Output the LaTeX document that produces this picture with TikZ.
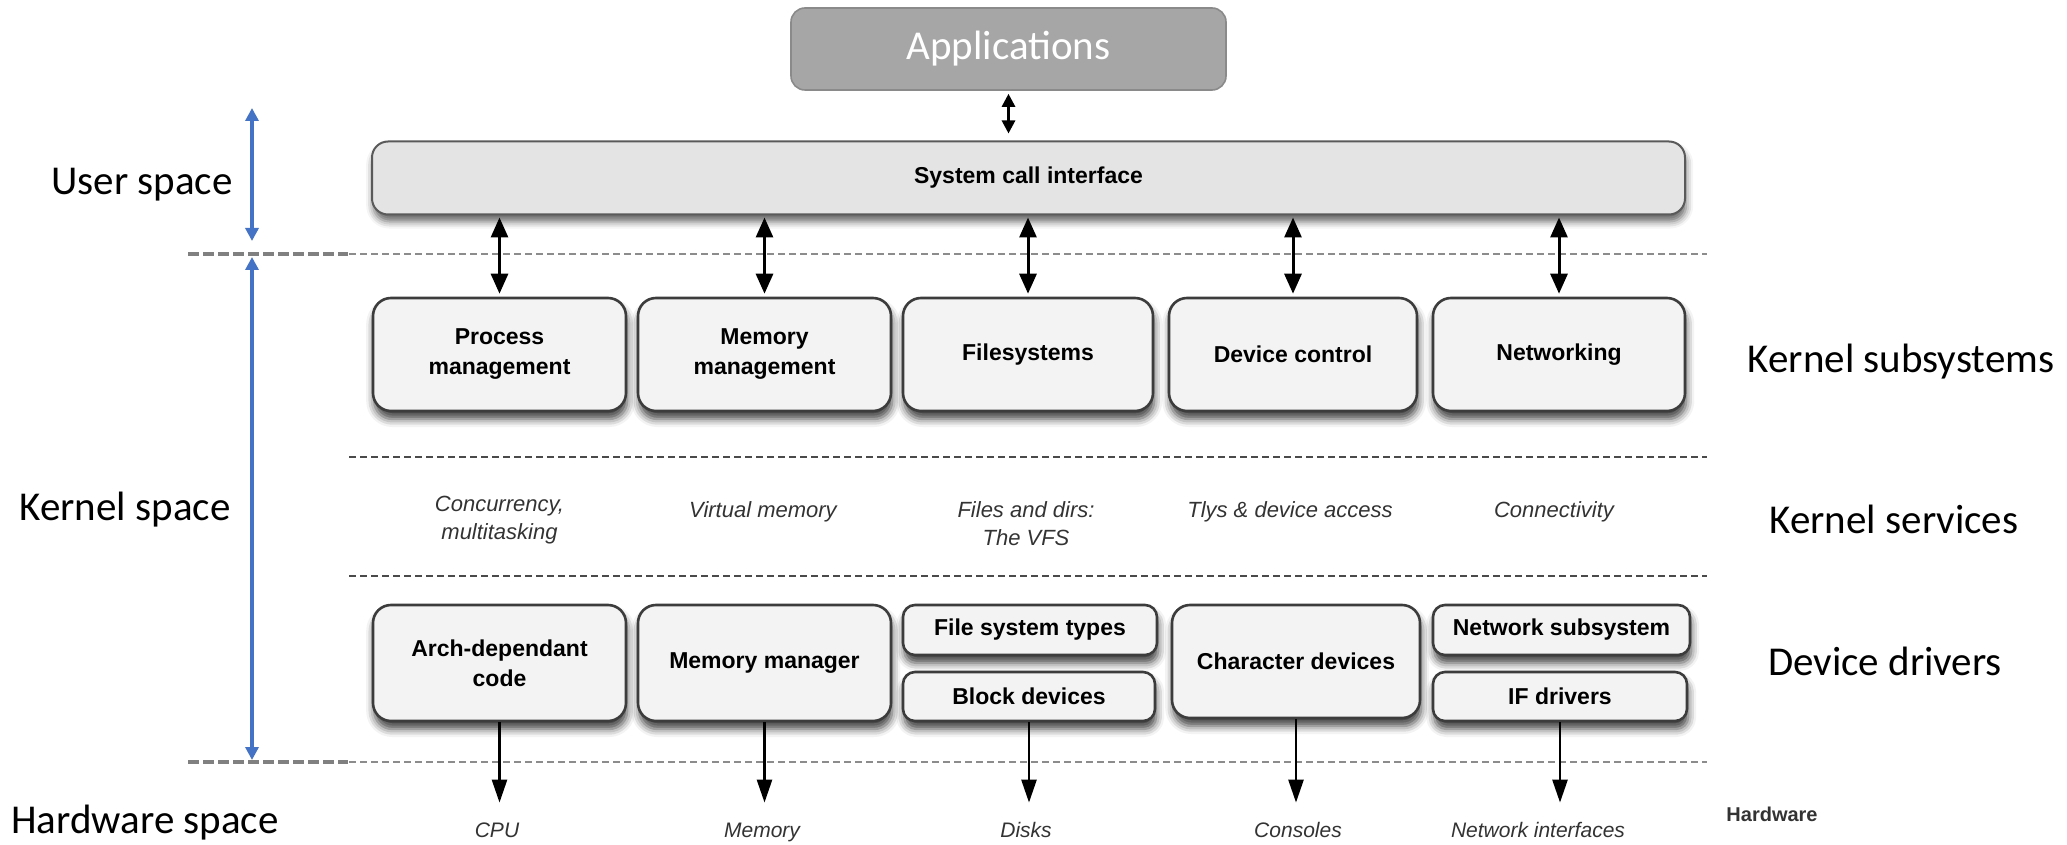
\documentclass[tikz,border=0pt]{standalone}
\usepackage{fontspec}
\setmainfont{Liberation Sans}
\newfontfamily\sidefont{Carlito}
\usetikzlibrary{arrows.meta,shadows.blur}

\definecolor{boxfill}{HTML}{F3F3F3}
\definecolor{boxline}{HTML}{3C3C3C}
\definecolor{callfill}{HTML}{E4E4E4}
\definecolor{callline}{HTML}{5A5A5A}
\definecolor{appfill}{HTML}{A6A6A6}
\definecolor{appline}{HTML}{8A8A8A}
\definecolor{spaceblue}{HTML}{4472C4}
\definecolor{sepdark}{HTML}{4A4A4A}
\definecolor{seplight}{HTML}{8C8C8C}
\definecolor{septhick}{HTML}{808080}
\definecolor{servtext}{HTML}{333333}

\begin{document}
\begin{tikzpicture}[x=0.5pt,y=-0.5pt,
  sub/.style={draw=boxline, line width=1.3pt, fill=boxfill, rounded corners=9pt,
    font=\bfseries\fontsize{11.5}{15}\selectfont, align=center, inner sep=0pt,
    blur shadow={shadow xshift=0.6pt, shadow yshift=-4pt, shadow blur radius=4pt, shadow opacity=75}},
  slim/.style={sub, rounded corners=6pt},
  callbox/.style={draw=callline, line width=1pt, fill=callfill, rounded corners=8pt,
    font=\bfseries\fontsize{11.5}{15}\selectfont, inner sep=0pt,
    blur shadow={shadow xshift=0.6pt, shadow yshift=-3.5pt, shadow blur radius=3.5pt, shadow opacity=60}},
  appbox/.style={draw=appline, line width=0.8pt, fill=appfill, rounded corners=7pt,
    text=white, font=\sidefont\fontsize{20.5}{24}\selectfont, inner sep=0pt},
  serv/.style={font=\itshape\fontsize{11}{14}\selectfont, text=servtext, align=center, inner sep=0pt, anchor=north},
  hw/.style={font=\itshape\fontsize{10.5}{13}\selectfont, text=servtext, inner sep=0pt,
    text height=8pt, text depth=2.5pt, anchor=base},
  side/.style={font=\sidefont\fontsize{20.5}{24}\selectfont, inner sep=0pt, anchor=base},
  apparrow/.style={line width=1.4pt, {Triangle[length=6.5pt,width=6.5pt]}-{Triangle[length=6.5pt,width=6.5pt]}},
  dblarrow/.style={line width=1.5pt, {Triangle[length=10pt,width=8.5pt]}-{Triangle[length=10pt,width=8.5pt]}},
  downarrow/.style={line width=1.3pt, -{Triangle[length=11.5pt,width=7.5pt]}},
  bluearrow/.style={spaceblue, line width=2pt, {Triangle[length=6.5pt,width=6.5pt]}-{Triangle[length=6.5pt,width=6.5pt]}},
  thinsep/.style={line width=0.75pt, dash pattern=on 3.5pt off 2pt},
  thicksep/.style={septhick, line width=2pt, dash pattern=on 5.5pt off 2pt}
]
\useasboundingbox (0,0) rectangle (2067,845);

% separators between the layers
\draw[thicksep] (188,254) -- (348,254);
\draw[thinsep, seplight] (349,254) -- (1707,254);
\draw[thinsep, sepdark] (349,457) -- (1707,457);
\draw[thinsep, sepdark] (349,576) -- (1707,576);
\draw[thicksep] (188,762) -- (348,762);
\draw[thinsep, seplight] (349,762) -- (1707,762);

% applications and system call layer
\node[appbox, minimum width=217.5pt, minimum height=41pt] (apps) at (1008.5,49) {Applications};
\node[callbox, minimum width=656.5pt, minimum height=36.5pt] (sc) at (1028.5,178) {System call interface};

% kernel subsystems
\node[sub, minimum width=126.5pt, minimum height=56.5pt] (p1) at (499.5,354.5) {Process\\management};
\node[sub, minimum width=126.5pt, minimum height=56.5pt] (p2) at (764.5,354.5) {Memory\\management};
\node[sub, minimum width=125pt,   minimum height=56.5pt] (p3) at (1028,354.5) {Filesystems};
\node[sub, minimum width=124pt,   minimum height=56.5pt] (p4) at (1293,354.5) {Device control};
\node[sub, minimum width=126pt,   minimum height=56.5pt] (p5) at (1559,354.5) {Networking};

% kernel services
\node[serv] (s1) at (499.5,491) {\strut Concurrency,\\multitasking};
\node[serv] (s2) at (763,497) {\strut Virtual memory};
\node[serv] (s3) at (1026,497) {\strut Files and dirs:\\The VFS};
\node[serv] (s4) at (1290,497) {\strut Tlys \& device access};
\node[serv] (s5) at (1554,497) {\strut Connectivity};

% device drivers
\node[sub,  minimum width=126.5pt, minimum height=58pt]   (d1) at (499.5,663) {Arch-dependant\\code};
\node[sub,  minimum width=126.5pt, minimum height=58pt]   (d2) at (764.5,663) {Memory manager};
\node[slim, minimum width=127pt,   minimum height=25pt]   (d3a) at (1030,630) {File system types};
\node[slim, minimum width=126pt,   minimum height=24.5pt] (d3b) at (1029,696.5) {Block devices};
\node[sub,  minimum width=124pt,   minimum height=56.5pt] (d4) at (1296,661.5) {Character devices};
\node[slim, minimum width=128.5pt, minimum height=25pt]   (d5a) at (1561.5,630) {Network subsystem};
\node[slim, minimum width=127pt,   minimum height=24.5pt] (d5b) at (1560,696.5) {IF drivers};

% hardware
\node[hw] (h1) at (497,837) {CPU};
\node[hw] (h2) at (762,837) {Memory};
\node[hw] (h3) at (1026,837) {Disks};
\node[hw] (h4) at (1298,837) {Consoles};
\node[hw] (h5) at (1538,837) {Network interfaces};

% connectors
\draw[apparrow, shorten <=1.5pt, shorten >=3.5pt] (apps.south) -- (apps.south |- sc.north);
\foreach \p in {p1,p2,p3,p4,p5}
  \draw[dblarrow, shorten <=1pt, shorten >=1.5pt] (\p.north |- sc.south) -- (\p.north);
\draw[downarrow, shorten >=9pt] (d1.south) -- (d1.south |- h1.north);
\draw[downarrow, shorten >=9pt] (d2.south) -- (d2.south |- h2.north);
\draw[downarrow, shorten >=9pt] (d3b.south) -- (d3b.south |- h3.north);
\draw[downarrow, shorten >=9pt] (d4.south) -- (d4.south |- h4.north);
\draw[downarrow, shorten >=9pt] (d5b.south) -- (d5b.south |- h5.north);

% address space markers
\coordinate (uTop) at (252,108);
\coordinate (uBot) at (252,241);
\coordinate (kTop) at (252,257);
\coordinate (kBot) at (252,760);
\draw[bluearrow] (uTop) -- (uBot);
\draw[bluearrow] (kTop) -- (kBot);

% side labels
\node[side] (lu) at (142,195) {User space};
\node[side] (lk) at (125,520) {Kernel space};
\node[side] (lh) at (145,833) {Hardware space};
\node[side] (rsub) at (1901,372) {Kernel subsystems};
\node[side] (rserv) at (1894,533) {Kernel services};
\node[side] (rdrv) at (1885,675) {Device drivers};
\node[font=\bfseries\fontsize{10}{12}\selectfont, text=servtext, inner sep=0pt, anchor=base] (rhw) at (1772,821) {Hardware};
\end{tikzpicture}
\end{document}
